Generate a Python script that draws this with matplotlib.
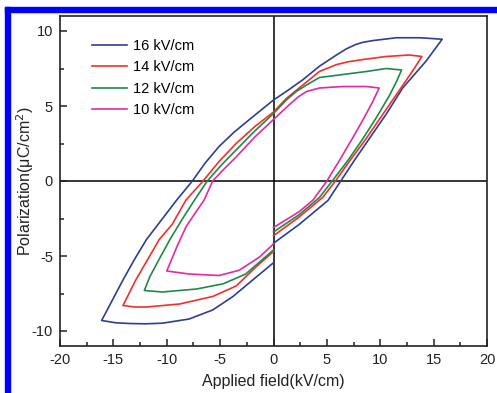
import matplotlib
matplotlib.use("Agg")
from matplotlib import pyplot as plt
from matplotlib.patches import Rectangle
from matplotlib.ticker import MultipleLocator

plt.rcParams["font.family"] = ["Liberation Sans", "DejaVu Sans"]
plt.rcParams["axes.unicode_minus"] = False

# P-E loops (field in kV/cm, polarization in uC/cm^2)
labels = ["16 kV/cm", "14 kV/cm", "12 kV/cm", "10 kV/cm"]

e_16 = [0, 2.4, 5.1, 6.3, 7.6, 9.0, 10.6, 12.1, 14.3, 15.8, 14.8, 13.7, 11.5, 9.3,
        8.4, 7.7, 6.8, 5.9, 4.3, 2.75, 1.2, 0, -2.25, -3.7, -5.1, -6.4, -7.6, -9.1,
        -10.5, -11.9, -13.0, -14.1, -16.1, -14.8, -13.5, -12.0, -10.4, -7.9, -5.7,
        -3.8, -1.95, 0]
p_16 = [-4.15, -2.9, -1.3, 0, 1.4, 2.85, 4.5, 6.2, 8.0, 9.45, 9.5, 9.55, 9.55, 9.36,
        9.25, 9.1, 8.8, 8.4, 7.65, 6.75, 5.97, 5.4, 4.1, 3.25, 2.3, 1.2, 0, -1.3,
        -2.6, -3.9, -5.2, -6.6, -9.3, -9.45, -9.5, -9.52, -9.48, -9.2, -8.6,
        -7.7, -6.6, -5.45]

e_14 = [0, 2.4, 4.6, 5.8, 7.2, 8.7, 10.1, 11.5, 13.0, 13.9, 12.7, 10.55, 8.4, 7.0,
        5.9, 4.3, 2.75, 1.2, 0, -1.8, -3.5, -5.1, -6.6, -8.2, -9.5, -10.7, -11.8,
        -12.9, -14.1, -13.0, -11.9, -8.8, -5.7, -3.5, -1.6, 0]
p_14 = [-3.65, -2.4, -1.1, 0, 1.4, 2.85, 4.3, 5.75, 7.3, 8.3, 8.4, 8.3, 8.1, 7.95,
        7.76, 7.3, 6.4, 5.5, 4.6, 3.6, 2.5, 1.3, 0, -1.27, -2.9, -3.9, -5.25,
        -6.6, -8.3, -8.4, -8.4, -8.2, -7.7, -7.0, -5.7, -4.7]

e_12 = [0, 2.4, 4.3, 5.5, 7.0, 8.4, 9.7, 10.9, 11.5, 12.0, 10.55, 8.7, 6.5, 4.3, 3.1,
        2.1, 1.2, 0, -1.8, -3.5, -4.9, -6.2, -7.4, -8.6, -9.7, -10.7, -11.6, -12.1,
        -10.4, -7.2, -4.7, -2.6, 0]
p_12 = [-3.4, -2.25, -1.1, 0, 1.4, 2.85, 4.3, 5.75, 6.6, 7.4, 7.5, 7.3, 7.1, 6.9, 6.4,
        5.95, 5.4, 4.5, 3.3, 2.07, 1.05, 0, -1.27, -2.6, -3.9, -5.2, -6.4, -7.3,
        -7.4, -7.2, -6.85, -6.2, -4.6]

e_10 = [0, 2.4, 3.7, 5.0, 6.2, 7.4, 8.4, 9.3, 9.9, 8.7, 6.5, 4.3, 3.1, 2.3, 1.5, 0,
        -1.8, -3.5, -4.7, -5.7, -6.5, -7.4, -8.2, -9.0, -9.7, -10.0, -7.9, -5.1,
        -3.2, -1.3, 0]
p_10 = [-3.1, -2.05, -1.27, 0, 1.4, 2.85, 4.1, 5.3, 6.2, 6.3, 6.3, 6.2, 5.97, 5.6,
        5.1, 4.1, 2.9, 1.6, 0.75, 0, -1.27, -2.2, -3.06, -4.3, -5.5, -6.0, -6.2,
        -6.3, -5.95, -5.06, -4.2]

fields = [e_16, e_14, e_12, e_10]
pols = [p_16, p_14, p_12, p_10]
colors = ["#2e3f8f", "#f0302c", "#1f8a48", "#e42a9c"]

fig = plt.figure(figsize=(4.97, 3.93), dpi=100)
ax = fig.add_axes([60 / 497, 47 / 393, 427 / 497, 330 / 393])

for e, p, col, lab in zip(fields, pols, colors, labels):
    ax.plot(e, p, color=col, lw=1.2, label=lab)

ax.axhline(0, color="black", lw=1.1, zorder=0)
ax.axvline(0, color="black", lw=1.1, zorder=0)

ax.set_xlim(-20, 20)
ax.set_ylim(-11, 11)
ax.xaxis.set_major_locator(MultipleLocator(5))
ax.xaxis.set_minor_locator(MultipleLocator(2.5))
ax.yaxis.set_major_locator(MultipleLocator(5))
ax.yaxis.set_minor_locator(MultipleLocator(2.5))
ax.tick_params(which="both", direction="in", top=False, right=False,
               labelsize=10.5, colors="#222222", width=1.1, pad=5)
ax.tick_params(which="major", length=5)
ax.tick_params(which="minor", length=3)
for s in ax.spines.values():
    s.set_linewidth(1.2)
    s.set_color("#222222")

ax.set_xlabel("Applied field(kV/cm)", fontsize=11.5, color="#222222", labelpad=5)
ax.set_ylabel("Polarization(\u03bcC/cm$^2$)", fontsize=11.5, color="#222222")
ax.yaxis.set_label_coords(-0.056, 0.5)

ax.legend(loc="upper left", frameon=False, fontsize=10.5, handlelength=2.4,
          handletextpad=0.4, labelspacing=0.5, borderpad=0,
          bbox_to_anchor=(0.075, 0.93), borderaxespad=0)

# blue frame along the top and left edges of the picture
fig.patches.append(Rectangle((5 / 497, 1 - 12 / 393), 1, 5 / 393,
                             transform=fig.transFigure, color="#0000ff"))
fig.patches.append(Rectangle((5 / 497, 0), 5 / 497, 1 - 7 / 393,
                             transform=fig.transFigure, color="#0000ff"))

fig.savefig("out.png", dpi=100)
